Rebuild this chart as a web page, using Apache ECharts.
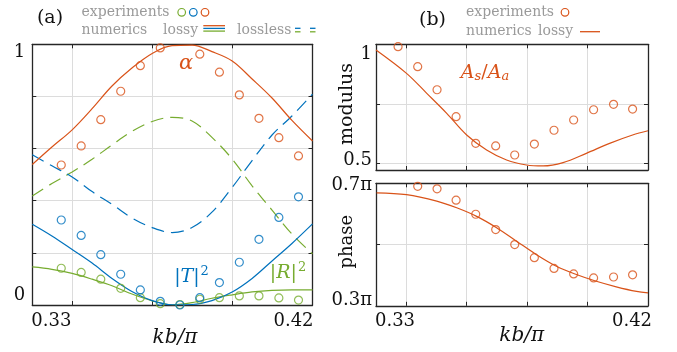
<!DOCTYPE html>
<html><head><meta charset="utf-8">
<script src="https://cdn.jsdelivr.net/npm/echarts@6/dist/echarts.min.js"></script>
<style>html,body{margin:0;padding:0;background:#fff}#c{width:677px;height:352px}</style>
</head><body><div id="c"></div>
<script>
// ---------- panel (a) data ----------
const xExpA    = [0.3393, 0.3457, 0.3520, 0.3584, 0.3647, 0.3711, 0.3774, 0.3838, 0.3901, 0.3965, 0.4028, 0.4092, 0.4155];
const alphaExp = [0.537, 0.610, 0.711, 0.820, 0.918, 0.986, 1.002, 0.962, 0.893, 0.806, 0.716, 0.642, 0.572];
const tExp     = [0.326, 0.267, 0.193, 0.118, 0.058, 0.014, 0.000, 0.028, 0.086, 0.164, 0.252, 0.336, 0.415];
const rExp     = [0.141, 0.125, 0.099, 0.064, 0.028, 0.005, 0.002, 0.022, 0.028, 0.035, 0.035, 0.027, 0.019];

const xCurveA     = [0.3300, 0.3363, 0.3428, 0.3492, 0.3556, 0.3620, 0.3685, 0.3749, 0.3813, 0.3877, 0.3942, 0.4006, 0.4070, 0.4134, 0.4200];
const alphaLossy  = [0.539, 0.606, 0.672, 0.753, 0.840, 0.909, 0.965, 0.995, 0.997, 0.972, 0.936, 0.867, 0.794, 0.708, 0.629];
const tLossy      = [0.310, 0.265, 0.213, 0.161, 0.102, 0.052, 0.017, 0.001, 0.002, 0.017, 0.050, 0.102, 0.169, 0.236, 0.311];
const rLossy      = [0.146, 0.137, 0.121, 0.099, 0.074, 0.042, 0.016, 0.001, 0.009, 0.026, 0.039, 0.050, 0.056, 0.058, 0.058];
const rLossless   = [0.418, 0.466, 0.510, 0.559, 0.614, 0.666, 0.704, 0.720, 0.706, 0.643, 0.560, 0.457, 0.364, 0.272, 0.196];
const tLossless   = [0.576, 0.534, 0.491, 0.435, 0.386, 0.334, 0.297, 0.278, 0.297, 0.356, 0.451, 0.554, 0.652, 0.725, 0.809];

const gridTicksXA = [0.3428, 0.3686, 0.3943];
const gridTicksYA = [0, 0.2, 0.4, 0.6, 0.8, 1.0];
const labelsXA    = [0.33, 0.42];
const labelsYA    = [0, 1];

// ---------- panel (b) data ----------
const xExpB    = [0.3373, 0.3438, 0.3502, 0.3565, 0.3630, 0.3696, 0.3759, 0.3824, 0.3889, 0.3954, 0.4020, 0.4086, 0.4149];
const modExp   = [0.990, 0.906, 0.809, 0.696, 0.584, 0.573, 0.535, 0.581, 0.639, 0.682, 0.725, 0.748, 0.728];
const phaseExp = [0.705, 0.690, 0.682, 0.645, 0.599, 0.549, 0.500, 0.457, 0.422, 0.404, 0.391, 0.394, 0.401]; // units of pi

const xCurveMod  = [0.3300, 0.3401, 0.3468, 0.3534, 0.3600, 0.3666, 0.3732, 0.3798, 0.3853, 0.3919, 0.3996, 0.4073, 0.4149, 0.4200];
const modLossy   = [0.976, 0.878, 0.794, 0.710, 0.619, 0.556, 0.514, 0.493, 0.489, 0.503, 0.542, 0.584, 0.619, 0.637];
const xCurvePh   = [0.3302, 0.3401, 0.3501, 0.3567, 0.3633, 0.3699, 0.3765, 0.3831, 0.3897, 0.3963, 0.4029, 0.4095, 0.4162, 0.4200];
const phaseLossy = [0.669, 0.663, 0.642, 0.620, 0.592, 0.555, 0.511, 0.467, 0.429, 0.402, 0.380, 0.362, 0.347, 0.342];

const gridTicksXB  = [0.34, 0.36, 0.38, 0.40];
const gridTicksMod = [0.5, 0.75, 1.0];
const labelsMod    = [0.5, 1];
const gridTicksPh  = [0.3, 0.5, 0.7];
const labelsPh     = [0.3, 0.7];

// ---------- styling ----------
const ORANGE = '#D95319', BLUE = '#0072BD', GREEN = '#77AC30';
const AX = '#262626', GRID = '#dcdcdc', LEG = '#9a9a9a';
const SERIF = "'DejaVu Serif', serif";
const TICK = 18, LEGS = 14;

const zip = (xs, ys) => xs.map((x, i) => [x, ys[i]]);
const near = (a, b) => Math.abs(a - b) < 1e-6;

function xAx(grid, ticks, labelVals, padL, padR, pos) {
  return {
    type: 'value', gridIndex: grid, min: 0.33, max: 0.42, position: pos,
    axisLine: { show: true, onZero: false, lineStyle: { color: AX, width: 1.3 } },
    axisTick: { show: true, inside: true, length: 4, customValues: ticks, lineStyle: { color: AX, width: 1 } },
    splitLine: { show: pos === 'bottom', lineStyle: { color: GRID, width: 1 } },
    axisLabel: labelVals ? {
      show: true, customValues: labelVals, margin: 7, fontFamily: SERIF, fontSize: TICK, color: '#111',
      formatter: v => near(v, 0.33) ? '{l|0.33}' : '{r|0.42}',
      rich: {
        l: { fontFamily: SERIF, fontSize: TICK, color: '#111', padding: [0, 0, 0, padL] },
        r: { fontFamily: SERIF, fontSize: TICK, color: '#111', padding: [0, padR, 0, 0] }
      }
    } : { show: false }
  };
}
function yAx(grid, min, max, ticks, labelVals, fmt, rich, pos, margin) {
  return {
    type: 'value', gridIndex: grid, min: min, max: max, position: pos,
    axisLine: { show: true, onZero: false, lineStyle: { color: AX, width: 1.3 } },
    axisTick: { show: true, inside: true, length: 4, customValues: ticks, lineStyle: { color: AX, width: 1 } },
    splitLine: { show: pos === 'left', lineStyle: { color: GRID, width: 1 } },
    axisLabel: labelVals ? { show: true, customValues: labelVals, margin: margin, fontFamily: SERIF, fontSize: TICK, color: '#111',
      formatter: fmt, rich: rich } : { show: false }
  };
}
const tl = (pad) => ({ fontFamily: SERIF, fontSize: TICK, color: '#111', padding: pad });

function lineS(xi, yi, xs, ys, color, dashed) {
  return { type: 'line', xAxisIndex: xi, yAxisIndex: yi, data: zip(xs, ys), showSymbol: false, symbol: 'none',
    smooth: 0.35, silent: true, z: 2, lineStyle: { color: color, width: 1.2, type: dashed ? [13, 7] : 'solid' } };
}
function scat(xi, yi, xs, ys, color) {
  return { type: 'scatter', xAxisIndex: xi, yAxisIndex: yi, data: zip(xs, ys), symbol: 'circle', symbolSize: 8,
    silent: true, z: 5, itemStyle: { color: 'rgba(0,0,0,0)', borderColor: color, borderWidth: 1.2 } };
}

function txt(x, y, text, opts) {
  opts = opts || {};
  const st = { text: text, fontFamily: SERIF, fontSize: opts.size || LEGS, fontStyle: opts.italic ? 'italic' : 'normal',
    fill: opts.color || '#111', align: opts.align || 'left', verticalAlign: 'middle' };
  if (opts.rich) st.rich = opts.rich;
  return { type: 'text', x: x, y: y, rotation: opts.rot || 0, z: 10, silent: true, style: st };
}
function seg(x1, y1, x2, y2, color, w) {
  return { type: 'line', z: 10, silent: true, shape: { x1, y1, x2, y2 }, style: { stroke: color, lineWidth: w || 1.3 } };
}
function circ(cx, cy, color) {
  return { type: 'circle', z: 10, silent: true, shape: { cx, cy, r: 3.8 }, style: { fill: 'none', stroke: color, lineWidth: 1.2 } };
}
const rs = (size, color, italic, pad) => {
  const o = { fontFamily: SERIF, fontSize: size, fill: color, color: color };
  if (italic) o.fontStyle = 'italic';
  if (pad) o.padding = pad;
  return o;
};

const chart = echarts.init(document.getElementById('c'), null, { renderer: 'canvas' });
const option = {
  animation: false,
  backgroundColor: '#fff',
  textStyle: { fontFamily: SERIF },
  grid: [
    { left: 32.3, top: 44.3, width: 280.2, height: 260.7, outerBoundsMode: 'none', containLabel: false },
    { left: 376, top: 44.3, width: 272, height: 125.7, outerBoundsMode: 'none', containLabel: false },
    { left: 376, top: 183.3, width: 272, height: 122.5, outerBoundsMode: 'none', containLabel: false }
  ],
  xAxis: [
    xAx(0, gridTicksXA, labelsXA, 38, 38, 'bottom'),
    xAx(0, gridTicksXA, null, 0, 0, 'top'),
    xAx(1, gridTicksXB, null, 0, 0, 'bottom'),
    xAx(1, gridTicksXB, null, 0, 0, 'top'),
    xAx(2, gridTicksXB, labelsXA, 38, 32, 'bottom'),
    xAx(2, gridTicksXB, null, 0, 0, 'top')
  ],
  yAxis: [
    yAx(0, 0, 1, gridTicksYA, labelsYA, v => near(v, 1) ? '{d|1}' : '{u|0}', { d: tl([17, 0, 0, 0]), u: tl([0, 0, 19, 0]) }, 'left', 7),
    yAx(0, 0, 1, gridTicksYA, null, null, null, 'right', 0),
    yAx(1, 0.472, 1.0, gridTicksMod, labelsMod, v => near(v, 1) ? '{d|1}' : '{u|0.5}', { d: tl([21, 0, 0, 0]), u: tl([0, 0, 7, 0]) }, 'left', 4),
    yAx(1, 0.472, 1.0, gridTicksMod, null, null, null, 'right', 0),
    yAx(2, 0.3, 0.7, gridTicksPh, labelsPh, v => near(v, 0.7) ? '{d|0.7π}' : '{u|0.3π}', { d: tl([5, 0, 0, 0]), u: tl([0, 0, 10, 0]) }, 'left', 4),
    yAx(2, 0.3, 0.7, gridTicksPh, null, null, null, 'right', 0)
  ],
  series: [
    lineS(0, 0, xCurveA, rLossless, GREEN, true),
    lineS(0, 0, xCurveA, tLossless, BLUE, true),
    lineS(0, 0, xCurveA, rLossy, GREEN, false),
    lineS(0, 0, xCurveA, tLossy, BLUE, false),
    lineS(0, 0, xCurveA, alphaLossy, ORANGE, false),
    scat(0, 0, xExpA, rExp, GREEN),
    scat(0, 0, xExpA, tExp, BLUE),
    scat(0, 0, xExpA, alphaExp, ORANGE),
    lineS(2, 2, xCurveMod, modLossy, ORANGE, false),
    scat(2, 2, xExpB, modExp, ORANGE),
    lineS(4, 4, xCurvePh, phaseLossy, ORANGE, false),
    scat(4, 4, xExpB, phaseExp, ORANGE)
  ],
  graphic: [
    txt(50, 18, '(a)', { size: 19, align: 'center' }),
    txt(81.5, 12, 'experiments', { color: LEG }),
    circ(181.7, 12.3, GREEN), circ(193.3, 12.3, BLUE), circ(205, 12.3, ORANGE),
    txt(81.5, 30, 'numerics', { color: LEG }),
    txt(163, 30, 'lossy', { color: LEG }),
    seg(203.3, 25.7, 225, 25.7, ORANGE), seg(203.3, 28.4, 225, 28.4, BLUE), seg(203.3, 31.1, 225, 31.1, GREEN),
    txt(237, 30, 'lossless', { color: LEG }),
    seg(295, 28.3, 300.5, 28.3, BLUE), seg(310, 28.3, 315.5, 28.3, BLUE),
    seg(295, 31.8, 300.5, 31.8, GREEN), seg(310, 31.8, 315.5, 31.8, GREEN),

    txt(432.5, 20, '(b)', { size: 19, align: 'center' }),
    txt(466, 12, 'experiments', { color: LEG }),
    circ(565, 12.3, ORANGE),
    txt(466, 31, 'numerics', { color: LEG }),
    txt(538, 31, 'lossy', { color: LEG }),
    seg(580, 31.7, 600, 31.7, ORANGE),

    txt(186, 64, 'α', { size: 21, italic: true, color: ORANGE, align: 'center' }),
    txt(191.5, 277, '{n||}{i|T}{n||}{s|2}', { size: 19, color: BLUE, align: 'center', rich: {
      n: rs(19, BLUE), i: rs(19, BLUE, true), s: rs(13, BLUE, false, [0, 0, 11, 1]) } }),
    txt(288, 273, '{n||}{i|R}{n||}{s|2}', { size: 19, color: GREEN, align: 'center', rich: {
      n: rs(19, GREEN), i: rs(19, GREEN, true), s: rs(13, GREEN, false, [0, 0, 11, 1]) } }),
    txt(485, 73, '{i|A}{b|s}{n|/}{i|A}{b|a}', { size: 19, color: ORANGE, align: 'center', rich: {
      n: rs(19, ORANGE), i: rs(19, ORANGE, true), b: rs(13, ORANGE, true, [8, 0, 0, 0]) } }),

    txt(175, 338, 'kb/π', { size: 20, italic: true, align: 'center' }),
    txt(521.7, 336, 'kb/π', { size: 20, italic: true, align: 'center' }),
    txt(347.5, 104, 'modulus', { size: 19, align: 'center', rot: Math.PI / 2 }),
    txt(347.5, 241.7, 'phase', { size: 18, align: 'center', rot: Math.PI / 2 })
  ]
};
chart.setOption(option);
</script></body></html>
